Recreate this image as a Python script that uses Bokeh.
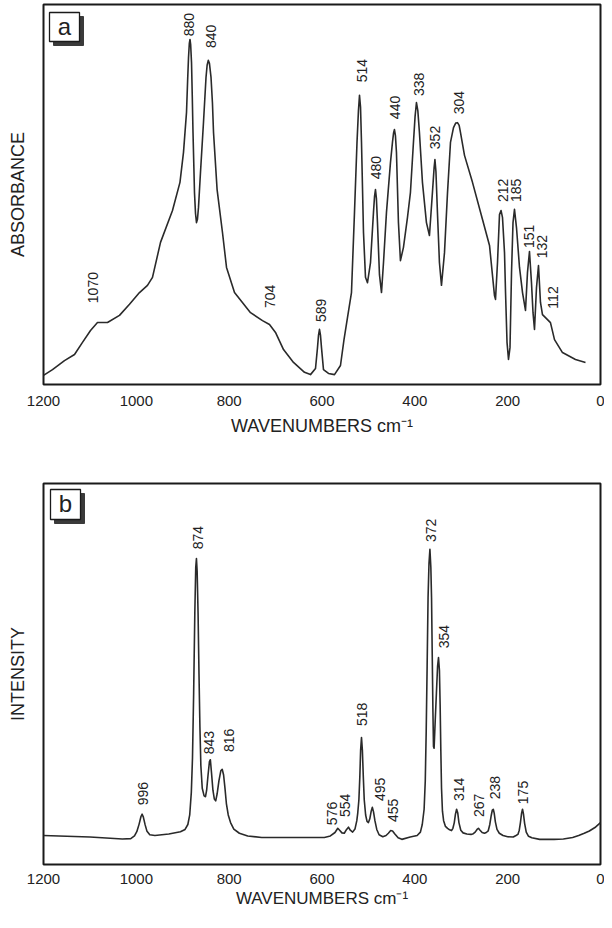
import numpy as np
from bokeh.plotting import figure
from bokeh.models import Range1d, FixedTicker
from bokeh.layouts import column
from bokeh.embed import file_html
from bokeh.resources import INLINE
from bokeh.core.properties import value

# ---------------- data ----------------
tick_values = [1200, 1000, 800, 600, 400, 200, 0]

# Panel a: IR absorbance (wavenumber cm-1, absorbance in arbitrary units 0-100)
ir_wn = [1200, 1180.6, 1154.8, 1133.2, 1116, 1098.7, 1083.7, 1062.1, 1036.3, 1014.7,
         993.2, 976, 965.2, 947.9, 922.1, 906, 898.4, 891.9, 889.5, 887.6,
         885.8, 884.4, 883, 881.1, 879.5, 877.9, 876, 874.7, 872.5, 870.4,
         868.3, 866.1, 861.8, 855.3, 849.9, 847.5, 845, 842.5, 839.1, 836,
         833.7, 826, 814.4, 805.7, 788.5, 754, 728.2, 713.1, 700.2, 682.9,
         661.4, 637.7, 624.8, 614, 609.7, 607.5, 605.4, 603.3, 601.1, 596.8,
         586, 573.1, 560.2, 552.6, 545.1, 536.5, 530, 524.6, 521.5, 519.2,
         517, 514.9, 510.6, 506.3, 502, 495.5, 489.1, 486.8, 484.8, 482.8,
         480.5, 476.2, 471.8, 467.5, 461.1, 452.5, 448.2, 445.8, 443.9, 441.8,
         439.6, 435.3, 431, 424.5, 415.9, 409.5, 403, 399.5, 396.5, 393.5,
         390.1, 383.6, 375, 368.5, 362.1, 358.5, 356.7, 354.5, 351.3, 347,
         342.6, 336.1, 329.6, 323.2, 316.7, 312, 308.1, 304.5, 301.6, 293,
         275.8, 254.2, 239.1, 228.4, 226.2, 221.9, 217.6, 214.3, 211.1, 206.8,
         204.6, 201.4, 198.2, 195, 191.7, 188.5, 185.3, 181, 174.5, 168,
         161.6, 157.3, 153, 148.7, 145.4, 142.2, 137.9, 133.6, 129.3, 125,
         118.5, 107.8, 99.1, 81.9, 53.9, 32.3]
ir_abs = [2.4, 3.9, 6.3, 7.9, 11.1, 14.2, 16.3, 16.3, 18.2, 21.1,
          24.2, 26.1, 28.2, 37.4, 45.8, 53.2, 61.1, 71.6, 80.0, 86.0,
          89.8, 90.8, 89.5, 84.7, 76.0, 66.3, 57.0, 50.5, 45.0, 42.6,
          43.5, 46.6, 55.8, 69.0, 80.8, 84.0, 85.3, 84.5, 80.8, 74.0,
          66.3, 51.3, 40.0, 30.8, 24.2, 18.9, 16.8, 15.8, 13.7, 9.2,
          5.8, 3.2, 2.6, 4.2, 9.7, 13.0, 14.5, 13.0, 9.7, 3.9,
          2.9, 2.6, 5.0, 11.8, 17.6, 24.2, 45.3, 63.7, 72.0, 76.1,
          73.0, 63.7, 40.0, 28.2, 26.8, 32.1, 45.3, 49.5, 51.3, 49.0,
          42.6, 28.9, 24.2, 32.1, 45.3, 58.4, 63.7, 66.2, 67.1, 65.5,
          61.1, 42.6, 32.6, 36.1, 43.9, 50.5, 63.7, 70.5, 74.2, 72.0,
          66.3, 53.2, 42.6, 39.2, 50.5, 57.0, 59.2, 56.0, 45.3, 32.1,
          26.1, 34.7, 50.5, 63.7, 67.6, 68.8, 68.9, 68.2, 66.3, 60.3,
          53.2, 43.4, 36.6, 23.4, 22.4, 32.1, 44.7, 45.8, 43.9, 34.7,
          24.2, 11.1, 6.6, 9.7, 29.5, 42.6, 46.1, 41.3, 30.8, 24.2,
          19.5, 29.5, 35.0, 26.8, 18.9, 14.5, 25.5, 31.3, 21.6, 18.4,
          17.6, 16.3, 11.8, 8.4, 6.6, 5.8]
ir_peak_labels = ["1070", "880", "840", "704", "589", "514", "480", "440", "338",
                  "352", "304", "212", "185", "151", "132", "112"]
ir_label_wn = [1094.4, 885.5, 838.1, 713.1, 601.1, 514.9, 484.7, 443.8, 392.1,
               355.5, 303.8, 211.1, 183.1, 153.0, 127.1, 103.4]
ir_label_y = [25.5, 94.7, 91.6, 23.2, 19.5, 82.6, 57.1, 72.9, 79.0,
              65.0, 74.2, 51.1, 51.1, 39.0, 36.3, 22.9]

# Panel b: Raman intensity (wavenumber cm-1, intensity in arbitrary units 0-100)
ra_wn = [1200, 1100, 1030, 1012, 1004, 999, 994, 990, 987.5, 985,
         981, 977, 971, 960, 930, 905, 895, 889, 885, 881.5,
         879, 876.5, 874, 872, 870.5, 869, 867, 865, 863, 861,
         858, 854, 851, 848.5, 845.5, 842.5, 840.5, 838, 835, 832,
         829, 826, 822, 818, 815, 812, 809, 806, 802, 797,
         790, 778, 760, 730, 595, 582, 572, 566, 562, 557,
         552, 547, 543, 539, 534, 529, 525, 523, 520.5, 518.5,
         516.8, 514.9, 513, 511, 509, 506, 503, 500, 497, 494,
         491.5, 489, 486, 482, 477, 469, 462, 457, 452, 448,
         443, 436, 428, 410, 395, 388, 384, 380, 377.5, 375.5,
         373.5, 371.5, 369.5, 367.5, 365.5, 364, 362.5, 361, 359.8, 358.5,
         357, 356, 353.5, 351, 349, 347, 345.5, 344, 342.5, 340.5,
         338, 334, 329.5, 325, 321, 318, 315, 312.5, 310, 307.5,
         305, 301, 296, 288, 279, 274, 270, 266, 263, 259.5,
         255, 250, 246, 242, 238.5, 235.5, 233, 231, 229, 226.5,
         223, 218, 210, 200, 188, 182, 178, 175, 172.5, 170,
         168, 166, 163.5, 160, 155, 148, 131, 100, 80, 60,
         47, 35, 24, 12, 0]
ra_int = [7.6, 7.2, 6.7, 6.8, 7.5, 8.6, 10.6, 12.6, 13.2, 12.5,
          10.4, 8.7, 7.8, 7.6, 8.0, 8.6, 9.2, 10.5, 13.0, 19.0,
          28.0, 45.0, 66.0, 78.0, 80.3, 77.0, 66.0, 50.0, 36.0, 26.0,
          20.0, 18.0, 17.8, 19.5, 23.5, 27.0, 27.5, 24.0, 19.5, 17.2,
          16.7, 18.5, 22.0, 24.6, 25.0, 23.5, 20.0, 16.0, 13.0, 11.0,
          9.3, 8.2, 7.5, 7.1, 7.1, 7.5, 8.4, 9.5, 9.0, 8.3,
          8.2, 9.2, 9.8, 9.0, 8.5, 9.3, 11.5, 13.5, 17.0, 23.0,
          30.0, 33.3, 30.0, 23.0, 17.0, 13.0, 11.3, 11.0, 12.0, 14.0,
          15.0, 13.8, 11.5, 9.2, 7.8, 7.3, 7.6, 8.2, 8.9, 8.8,
          8.0, 7.0, 6.6, 7.2, 7.6, 8.5, 10.5, 14.5, 22.0, 35.0,
          52.0, 70.0, 79.0, 82.7, 78.0, 70.0, 55.0, 40.0, 31.0, 30.5,
          35.0, 38.0, 45.0, 52.0, 54.3, 51.0, 42.0, 30.0, 20.0, 14.0,
          11.5, 10.0, 9.5, 9.1, 8.9, 9.5, 11.0, 13.2, 14.5, 13.5,
          11.0, 9.0, 8.3, 8.0, 7.9, 8.1, 8.5, 9.2, 9.5, 9.0,
          8.4, 8.2, 8.4, 8.8, 10.5, 12.8, 14.3, 14.5, 13.5, 11.2,
          9.2, 8.2, 7.6, 7.3, 7.2, 7.6, 7.9, 9.0, 11.0, 13.5,
          14.5, 13.3, 10.8, 8.5, 7.4, 7.0, 6.6, 6.6, 6.7, 7.1,
          7.6, 8.2, 8.8, 9.7, 11.0]
ra_peak_labels = ["996", "874", "843", "816", "576", "554", "518", "495", "455",
                  "372", "354", "314", "267", "238", "175"]
ra_label_wn = [984.6, 868.2, 842.4, 801.4, 577.4, 549.4, 514.9, 476.1, 448.1,
               364.1, 338.2, 305.9, 260.7, 228.3, 168.0]
ra_label_y = [18.6, 85.8, 32.0, 32.6, 13.4, 15.5, 39.4, 19.7, 14.2,
              87.7, 59.8, 19.7, 15.5, 20.2, 18.9]

# ---------------- styling helpers ----------------
FONT = "Liberation Sans"
INK = "#222222"
FRAME_W = 557


def make_panel(height, border_top, border_bottom, ylabel, lab_standoff, axl_standoff, axl_size):
    p = figure(width=604, height=height, x_range=Range1d(1200, 0), y_range=Range1d(0, 100),
               output_backend="svg", toolbar_location=None,
               min_border_left=43, min_border_right=4,
               min_border_top=border_top, min_border_bottom=border_bottom)
    p.grid.visible = False
    p.background_fill_color = "white"
    p.border_fill_color = "white"
    p.outline_line_color = "#1a1a1a"
    p.outline_line_width = 2

    xa = p.xaxis[0]
    xa.ticker = FixedTicker(ticks=tick_values)
    xa.axis_line_color = None
    xa.major_tick_line_color = None
    xa.minor_tick_line_color = None
    xa.major_tick_in = 0
    xa.major_tick_out = 0
    xa.major_label_text_font = FONT
    xa.major_label_text_font_size = "15px"
    xa.major_label_text_color = INK
    xa.major_label_standoff = lab_standoff
    xa.axis_label = "WAVENUMBERS cm\u207b\u00b9"
    xa.axis_label_text_font = FONT
    xa.axis_label_text_font_style = "normal"
    xa.axis_label_text_font_size = axl_size
    xa.axis_label_text_color = INK
    xa.axis_label_standoff = axl_standoff

    ya = p.yaxis[0]
    ya.ticker = FixedTicker(ticks=[])
    ya.axis_line_color = None
    ya.major_tick_line_color = None
    ya.minor_tick_line_color = None
    ya.major_tick_in = 0
    ya.major_tick_out = 0
    ya.major_label_text_font_size = "0px"
    ya.axis_label = ylabel
    ya.axis_label_text_font = FONT
    ya.axis_label_text_font_style = "normal"
    ya.axis_label_text_font_size = "18px"
    ya.axis_label_text_color = INK
    ya.axis_label_standoff = 16
    return p


def add_tag(p, letter, frame_h, dx, dy, w, h):
    # convert pixel offsets inside the frame to data coordinates (decoration only)
    def xd(px):
        return 1200 - px * 1200 / FRAME_W

    def yd(py):
        return 100 - py * 100 / frame_h
    s = 4
    p.quad(left=[xd(dx + s)], right=[xd(dx + w + s)], top=[yd(dy + s)], bottom=[yd(dy + h + s)],
           fill_color="#3a3a3a", line_color="#3a3a3a")
    p.quad(left=[xd(dx)], right=[xd(dx + w)], top=[yd(dy)], bottom=[yd(dy + h)],
           fill_color="white", line_color="#1a1a1a", line_width=1.3)
    p.text(x=[xd(dx + w / 2)], y=[yd(dy + h / 2 - 1)], text=[letter], text_align="center",
           text_baseline="middle", text_font=value(FONT), text_font_size="24px", text_color=INK)


# ---------------- panel a ----------------
pa = make_panel(452, 4, 68, "ABSORBANCE", 11, 7, "18px")
pa.line(ir_wn, ir_abs, line_color="#2a2a2a", line_width=1.6, line_join="round")
pa.text(x=ir_label_wn, y=ir_label_y, text=ir_peak_labels, angle=np.pi / 2,
        text_align="center", text_baseline="middle", text_font=value(FONT),
        text_font_size="14px", text_color=INK)
add_tag(pa, "a", 380, 6, 8, 30, 29)

# ---------------- panel b ----------------
pb = make_panel(460, 31, 48, "INTENSITY", 9, 2, "17px")
pb.line(ra_wn, ra_int, line_color="#2a2a2a", line_width=1.6, line_join="round")
pb.text(x=ra_label_wn, y=ra_label_y, text=ra_peak_labels, angle=np.pi / 2,
        text_align="center", text_baseline="middle", text_font=value(FONT),
        text_font_size="14px", text_color=INK)
add_tag(pb, "b", 381, 7, 6, 30, 30)

layout = column(pa, pb)
open("out.html", "w").write(file_html(layout, INLINE))
